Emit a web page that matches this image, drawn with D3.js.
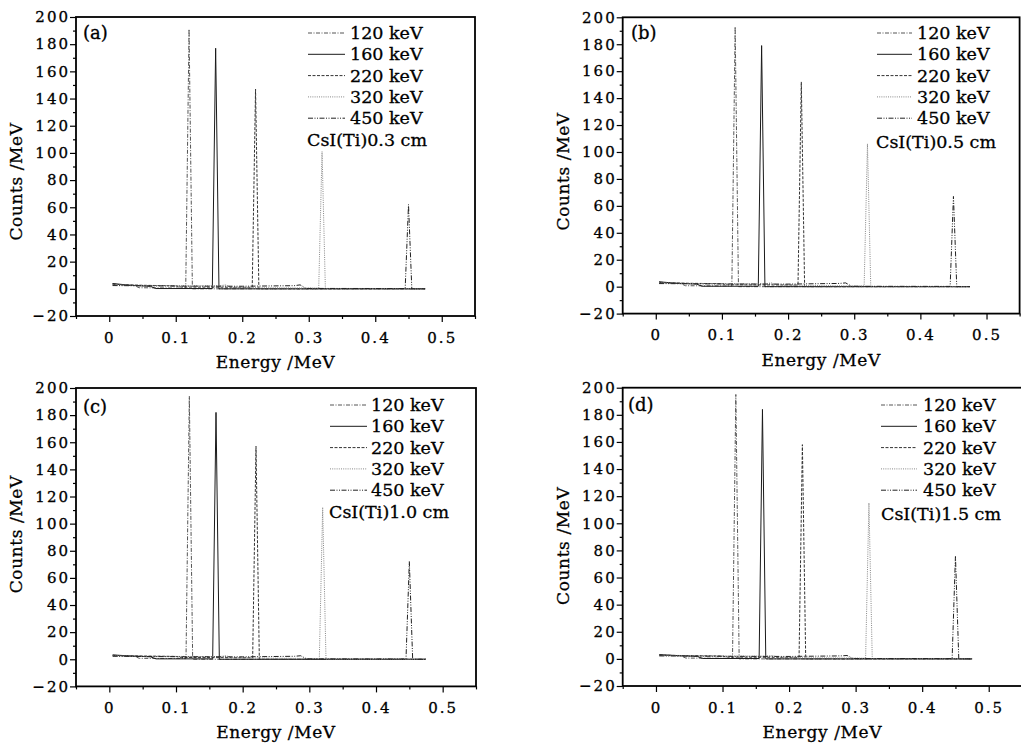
<!DOCTYPE html>
<html>
<head>
<meta charset="utf-8">
<script src="https://cdn.jsdelivr.net/npm/d3@7"></script>
<style>
  body { margin: 0; background: #fff; }
  svg { display: block; }
  svg text { stroke: #000; stroke-width: 0.3px; }
</style>
</head>
<body>
<svg id="chart" width="1021" height="745"></svg>
<script>
// CsI(Ti) simulated spectra, four crystal thicknesses, five gamma energies
const ENERGIES_KEV = [120, 160, 220, 320, 450];
const THICKNESS = ['0.3', '0.5', '1.0', '1.5'];
const PANEL_TAGS = ['(a)', '(b)', '(c)', '(d)'];
const X_TICKS = [0, 0.1, 0.2, 0.3, 0.4, 0.5];
const X_MINOR = [-0.05, 0.05, 0.15, 0.25, 0.35, 0.45, 0.55];
const Y_TICKS = [-20, 0, 20, 40, 60, 80, 100, 120, 140, 160, 180, 200];
const Y_MINOR = [-10, 10, 30, 50, 70, 90, 110, 130, 150, 170, 190];

// [energy MeV, counts/MeV], one list per gamma energy
const SPEC_A = [
  [[0.005, 3.6], [0.02, 2.9], [0.038, 2.3], [0.045, 0.8], [0.115, 0.5], [0.12, 191], [0.125, 0], [0.475, 0]],
  [[0.005, 3.9], [0.03, 2.7], [0.062, 1.8], [0.07, 0.2], [0.155, 0.2], [0.16, 177], [0.165, 0], [0.475, 0]],
  [[0.005, 3.3], [0.05, 2.6], [0.1, 2.2], [0.108, 1.3], [0.215, 1.1], [0.22, 147], [0.225, 0], [0.475, 0]],
  [[0.005, 2.9], [0.06, 2.4], [0.165, 2.2], [0.175, 2.9], [0.185, 1.0], [0.315, 0.5], [0.32, 101], [0.325, 0], [0.475, 0]],
  [[0.005, 2.4], [0.1, 2.0], [0.2, 1.9], [0.278, 2.3], [0.287, 2.9], [0.296, 0.3], [0.445, 0.2], [0.45, 62], [0.455, 0], [0.475, 0]]
];
const SPEC_B = [
  [[0.005, 3.4], [0.02, 2.8], [0.038, 2.2], [0.045, 0.7], [0.115, 0.5], [0.12, 193], [0.125, 0], [0.475, 0]],
  [[0.005, 3.6], [0.03, 2.6], [0.062, 1.9], [0.07, 0.3], [0.155, 0.3], [0.16, 179], [0.165, 0], [0.475, 0]],
  [[0.005, 3.1], [0.05, 2.5], [0.1, 2.2], [0.108, 1.4], [0.215, 1.2], [0.22, 152], [0.225, 0], [0.475, 0]],
  [[0.005, 2.8], [0.06, 2.3], [0.165, 2.1], [0.175, 2.8], [0.185, 1.1], [0.315, 0.5], [0.32, 106], [0.325, 0], [0.475, 0]],
  [[0.005, 2.3], [0.1, 2.0], [0.2, 1.9], [0.278, 2.4], [0.287, 2.8], [0.296, 0.3], [0.445, 0.2], [0.45, 67], [0.455, 0], [0.475, 0]]
];
const SPEC_C = [
  [[0.005, 3.0], [0.02, 2.6], [0.038, 2.1], [0.045, 0.7], [0.115, 0.5], [0.12, 194], [0.125, 0], [0.475, 0]],
  [[0.005, 3.2], [0.03, 2.5], [0.062, 1.8], [0.07, 0.3], [0.155, 0.3], [0.16, 182], [0.165, 0], [0.475, 0]],
  [[0.005, 2.8], [0.05, 2.4], [0.1, 2.1], [0.108, 1.3], [0.215, 1.1], [0.22, 157], [0.225, 0], [0.475, 0]],
  [[0.005, 2.5], [0.06, 2.2], [0.165, 2.0], [0.175, 2.6], [0.185, 1.0], [0.315, 0.5], [0.32, 112], [0.325, 0], [0.475, 0]],
  [[0.005, 2.2], [0.1, 1.9], [0.2, 1.8], [0.278, 2.2], [0.287, 2.6], [0.296, 0.3], [0.445, 0.2], [0.45, 72], [0.455, 0], [0.475, 0]]
];
const SPEC_D = [
  [[0.005, 2.9], [0.02, 2.6], [0.038, 2.1], [0.045, 0.6], [0.115, 0.4], [0.12, 195], [0.125, 0], [0.475, 0]],
  [[0.005, 3.1], [0.03, 2.5], [0.062, 1.8], [0.07, 0.3], [0.155, 0.3], [0.16, 184], [0.165, 0], [0.475, 0]],
  [[0.005, 2.7], [0.05, 2.4], [0.1, 2.1], [0.108, 1.3], [0.215, 1.1], [0.22, 158], [0.225, 0], [0.475, 0]],
  [[0.005, 2.4], [0.06, 2.2], [0.165, 2.0], [0.175, 2.5], [0.185, 1.0], [0.315, 0.5], [0.32, 115], [0.325, 0], [0.475, 0]],
  [[0.005, 2.2], [0.1, 1.9], [0.2, 1.8], [0.278, 2.2], [0.287, 2.5], [0.296, 0.3], [0.445, 0.2], [0.45, 76], [0.455, 0], [0.475, 0]]
];
const SPECTRA = [SPEC_A, SPEC_B, SPEC_C, SPEC_D];

// line look per gamma energy (greyscale, like the printed figure)
const LINE_STYLES = [
  { dash: '4,1.5,1,1.5', color: '#555' },
  { dash: null,          color: '#1a1a1a' },
  { dash: '3,1.5',       color: '#333' },
  { dash: '1,1.2',       color: '#888' },
  { dash: '5,1.5,1,1.5,1,1.5', color: '#222' }
];

// panel frames in page pixels
const PANELS = [
  { left: 76,    right: 475,    top: 17,    bottom: 316,   lg: { x1: 308, x2: 345, tx: 350, y0: 33,  csX: 307, csY: 140 }, tag: [83, 33],   cy: 0.55 },
  { left: 622.7, right: 1019.6, top: 17.3,  bottom: 313.6, lg: { x1: 877, x2: 912, tx: 917, y0: 33,  csX: 876, csY: 142 }, tag: [631, 33],  cy: 0.52 },
  { left: 76,    right: 476,    top: 388,   bottom: 686.4, lg: { x1: 330, x2: 367, tx: 371, y0: 405, csX: 329, csY: 512 }, tag: [83, 407],  cy: 0.49 },
  { left: 622.7, right: 1022,   top: 387.7, bottom: 686,   lg: { x1: 881, x2: 917, tx: 923, y0: 405, csX: 881, csY: 514 }, tag: [628, 405], cy: 0.53 }
];

const FONT = '"DejaVu Serif", "Liberation Serif", serif';
const INK = '#000';

const svg = d3.select('#chart');
svg.append('rect').attr('width', 1021).attr('height', 745).attr('fill', '#fff');

PANELS.forEach((p, i) => {
  const x = d3.scaleLinear().domain([-0.05, 0.55]).range([p.left, p.right]);
  const y = d3.scaleLinear().domain([-20, 200]).range([p.bottom, p.top]);
  const g = svg.append('g');

  // spectra
  const line = d3.line().x(d => x(d[0])).y(d => y(d[1]));
  SPECTRA[i].forEach((pts, k) => {
    const st = LINE_STYLES[k];
    g.append('path').attr('d', line(pts))
      .attr('fill', 'none').attr('stroke', st.color)
      .attr('stroke-width', 1).attr('stroke-dasharray', st.dash);
  });

  // frame
  g.append('rect')
    .attr('x', p.left).attr('y', p.top)
    .attr('width', p.right - p.left).attr('height', p.bottom - p.top)
    .attr('fill', 'none').attr('stroke', INK).attr('stroke-width', 1.8);

  // y axis
  const yAx = g.append('g').attr('transform', `translate(${p.left},0)`)
    .call(d3.axisLeft(y).tickValues(Y_TICKS).tickSize(6).tickPadding(0)
      .tickFormat(d => d < 0 ? '\u2212' + Math.abs(d) : d));
  g.append('g').attr('transform', `translate(${p.left},0)`)
    .call(d3.axisLeft(y).tickValues(Y_MINOR).tickSize(3).tickFormat(''));

  // x axis
  const xAx = g.append('g').attr('transform', `translate(0,${p.bottom})`)
    .call(d3.axisBottom(x).tickValues(X_TICKS).tickSize(6).tickPadding(10)
      .tickFormat(d => d === 0 ? '0' : d3.format('.1f')(d)));
  g.append('g').attr('transform', `translate(0,${p.bottom})`)
    .call(d3.axisBottom(x).tickValues(X_MINOR.filter(v => x(v) <= 1021)).tickSize(3).tickFormat(''));

  g.selectAll('.domain').remove();
  g.selectAll('.tick line').attr('stroke', INK).attr('stroke-width', 1.2);
  [xAx, yAx].forEach(ax => ax.selectAll('text')
    .attr('font-family', FONT).attr('font-size', 15)
    .style('letter-spacing', '2px').attr('fill', INK));

  // axis titles
  g.append('text')
    .attr('x', x(0.25)).attr('y', p.bottom + 46).attr('dy', '0.35em')
    .attr('text-anchor', 'middle')
    .attr('font-family', FONT).attr('font-size', 17).style('letter-spacing', '0.6px')
    .attr('fill', INK).text('Energy /MeV');

  const cy = p.top + p.cy * (p.bottom - p.top);
  g.append('text')
    .attr('transform', `translate(${p.left - 60},${cy}) rotate(-90)`)
    .attr('dy', '0.35em').attr('text-anchor', 'middle')
    .attr('font-family', FONT).attr('font-size', 17).style('letter-spacing', '0.6px')
    .attr('fill', INK).text('Counts /MeV');

  // panel tag
  g.append('text')
    .attr('x', p.tag[0]).attr('y', p.tag[1]).attr('dy', '0.35em')
    .attr('font-family', FONT).attr('font-size', 18).attr('fill', INK)
    .text(PANEL_TAGS[i]);

  // legend
  const step = 21.3;
  ENERGIES_KEV.forEach((e, k) => {
    const ly = p.lg.y0 + k * step;
    const st = LINE_STYLES[k];
    g.append('line')
      .attr('x1', p.lg.x1).attr('x2', p.lg.x2).attr('y1', ly).attr('y2', ly)
      .attr('stroke', st.color).attr('stroke-width', 1).attr('stroke-dasharray', st.dash);
    g.append('text')
      .attr('x', p.lg.tx).attr('y', ly).attr('dy', '0.35em')
      .attr('font-family', FONT).attr('font-size', 17.5).attr('fill', INK)
      .text(`${e} keV`);
  });
  g.append('text')
    .attr('x', p.lg.csX).attr('y', p.lg.csY).attr('dy', '0.35em')
    .attr('font-family', FONT).attr('font-size', 17.5).attr('fill', INK)
    .text(`CsI(Ti)${THICKNESS[i]} cm`);
});
</script>
</body>
</html>
